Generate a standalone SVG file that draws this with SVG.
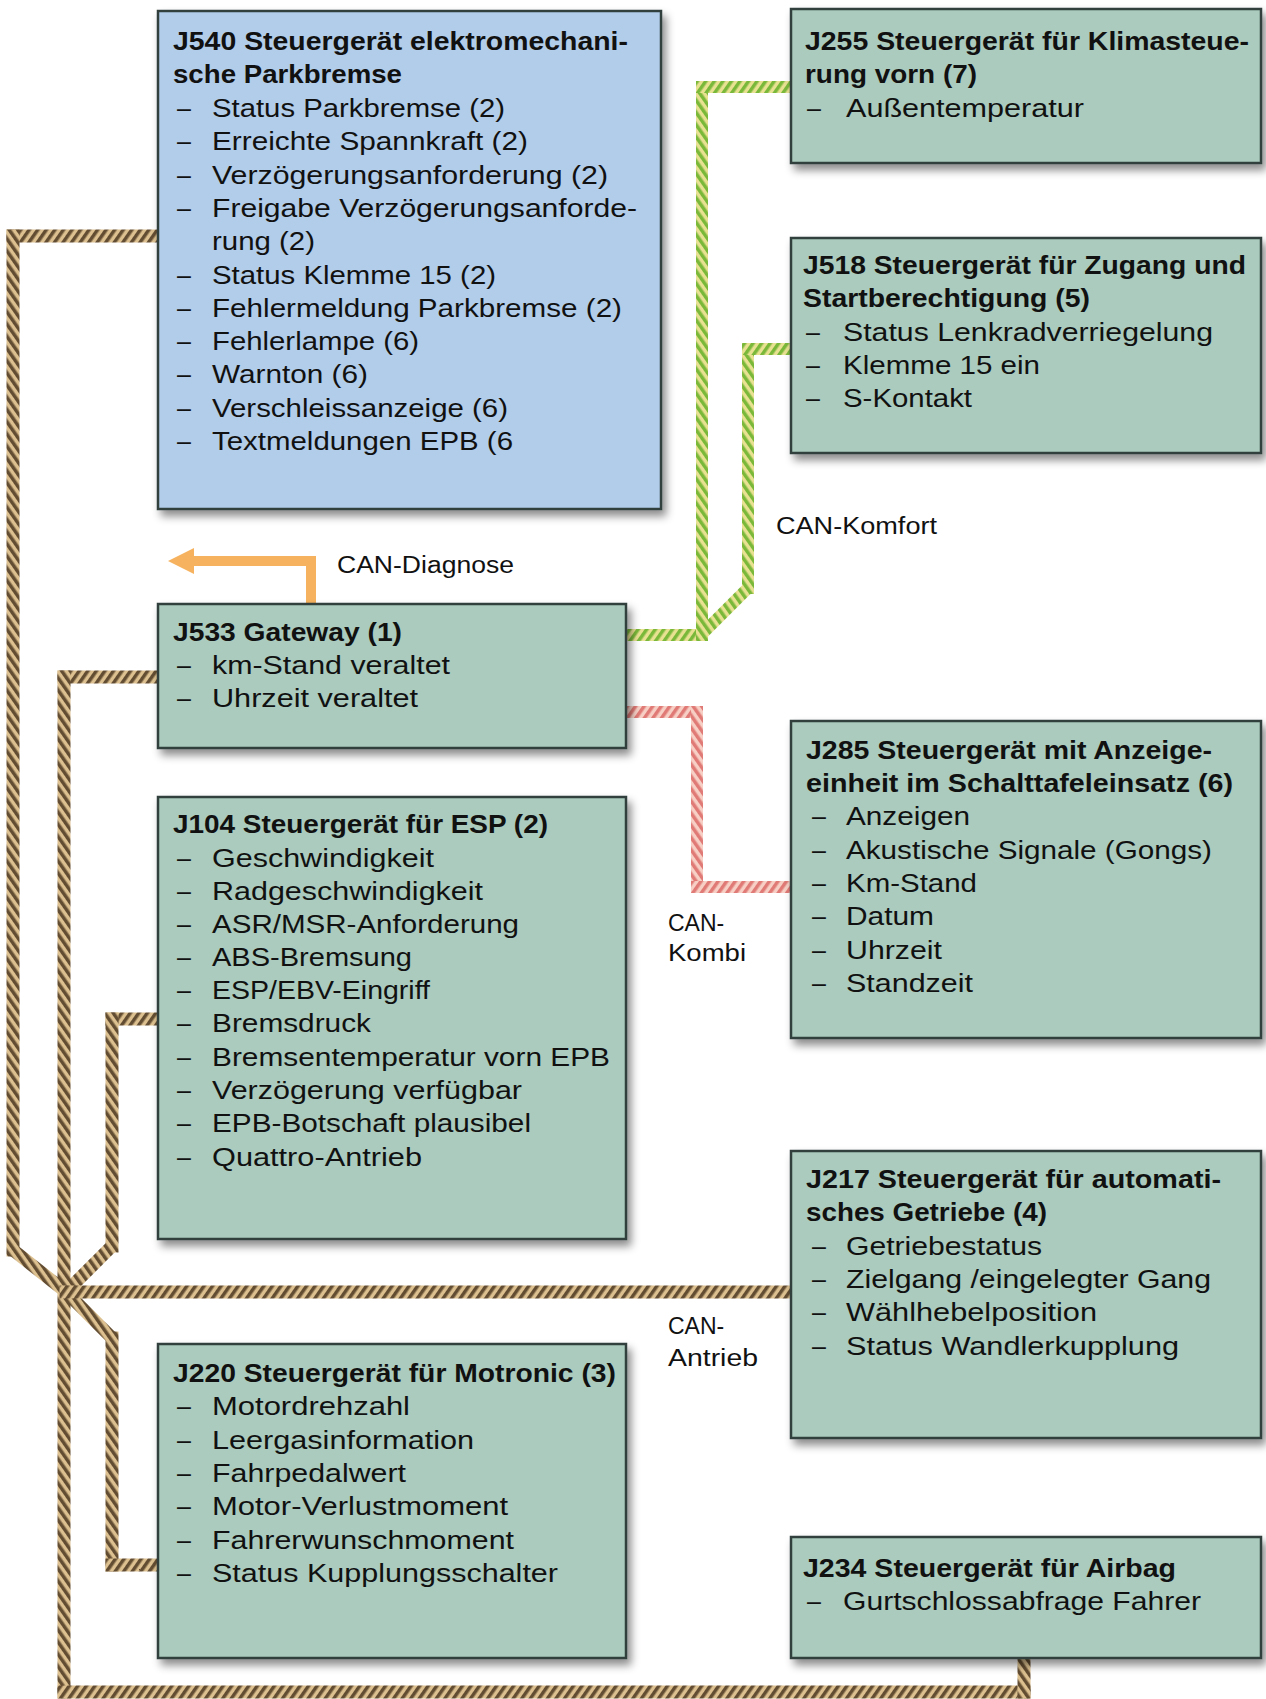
<svg xmlns="http://www.w3.org/2000/svg" width="1266" height="1699" viewBox="0 0 1266 1699">
<defs>
<style>
.box{stroke:#33403c;stroke-width:2.5}
.g{fill:#aacbbe}
.b{fill:#b1cdea}
.t{font-family:"Liberation Sans",Arial,sans-serif;font-weight:bold;font-size:26px;fill:#111}
.i{font-family:"Liberation Sans",Arial,sans-serif;font-size:25px;fill:#111}
.l{font-family:"Liberation Sans",Arial,sans-serif;font-size:23px;fill:#111}
.wb{fill:none;stroke-width:13}
.wg{fill:none;stroke-width:12}
.sq{stroke-linecap:square}
.hb{stroke:url(#brH)}
.vb{stroke:url(#brV)}
.hg{stroke:url(#grH)}
.vg{stroke:url(#grV)}
.hr{stroke:url(#rdH)}
.vr{stroke:url(#rdV)}
</style>
<filter id="sh" x="-5%" y="-5%" width="115%" height="120%">
<feDropShadow dx="4" dy="6" stdDeviation="4" flood-color="#000" flood-opacity="0.45"/>
</filter>
<pattern id="brH" width="7" height="7" patternUnits="userSpaceOnUse" patternTransform="rotate(35)"><rect width="7" height="7" fill="#dcc08f"/><rect width="3.5" height="7" fill="#634d32"/></pattern>
<pattern id="brV" width="7" height="7" patternUnits="userSpaceOnUse" patternTransform="rotate(-35)"><rect width="7" height="7" fill="#dcc08f"/><rect width="3.5" height="7" fill="#634d32"/></pattern>
<pattern id="grH" width="7" height="7" patternUnits="userSpaceOnUse" patternTransform="rotate(35)"><rect width="7" height="7" fill="#e8e192"/><rect width="3.5" height="7" fill="#7ab83a"/></pattern>
<pattern id="grV" width="7" height="7" patternUnits="userSpaceOnUse" patternTransform="rotate(-35)"><rect width="7" height="7" fill="#e8e192"/><rect width="3.5" height="7" fill="#7ab83a"/></pattern>
<pattern id="rdH" width="7" height="7" patternUnits="userSpaceOnUse" patternTransform="rotate(35)"><rect width="7" height="7" fill="#f7cfc4"/><rect width="3.5" height="7" fill="#e07a76"/></pattern>
<pattern id="rdV" width="7" height="7" patternUnits="userSpaceOnUse" patternTransform="rotate(-35)"><rect width="7" height="7" fill="#f7cfc4"/><rect width="3.5" height="7" fill="#e07a76"/></pattern>
</defs>
<rect width="1266" height="1699" fill="#ffffff"/>

<g id="connectors">
<g id="can-antrieb">
<path class="wb vb" d="M13,1250 L66,1292"/>
<path class="wb vb" d="M112,1246 L66,1292"/>
<path class="wb vb" d="M66,1292 L112,1338"/>
<line class="wb hb sq" x1="158" y1="236" x2="13" y2="236"/>
<line class="wb vb sq" x1="13" y1="236" x2="13" y2="1250"/>
<line class="wb hb sq" x1="158" y1="1019" x2="112" y2="1019"/>
<line class="wb vb sq" x1="112" y1="1019" x2="112" y2="1246"/>
<line class="wb hb sq" x1="158" y1="677" x2="64" y2="677"/>
<line class="wb vb sq" x1="64" y1="677" x2="64" y2="1692"/>
<line class="wb hb sq" x1="64" y1="1692" x2="1024" y2="1692"/>
<line class="wb vb sq" x1="1024" y1="1692" x2="1024" y2="1660"/>
<line class="wb hb sq" x1="66" y1="1292" x2="791" y2="1292"/>
<line class="wb vb sq" x1="112" y1="1338" x2="112" y2="1565"/>
<line class="wb hb sq" x1="112" y1="1565" x2="158" y2="1565"/>
</g>
<g id="can-komfort">
<path class="wg vg" d="M748,588 L702,634"/>
<line class="wg hg sq" x1="626" y1="635" x2="702" y2="635"/>
<line class="wg vg sq" x1="702" y1="635" x2="702" y2="87"/>
<line class="wg hg sq" x1="702" y1="87" x2="791" y2="87"/>
<line class="wg vg sq" x1="748" y1="588" x2="748" y2="349"/>
<line class="wg hg sq" x1="748" y1="349" x2="791" y2="349"/>
</g>
<g id="can-kombi">
<line class="wg hr sq" x1="626" y1="712" x2="697" y2="712"/>
<line class="wg vr sq" x1="697" y1="712" x2="697" y2="887"/>
<line class="wg hr sq" x1="697" y1="887" x2="791" y2="887"/>
</g>
<g id="can-diagnose">
<path d="M311,606 V561 H190" fill="none" stroke="#f6b25e" stroke-width="10"/>
<polygon points="168,561 194,548 194,574" fill="#f6b25e"/>
</g>
</g>

<g id="labels">
<text class="l" x="776" y="534" textLength="161" lengthAdjust="spacingAndGlyphs">CAN-Komfort</text>
<text class="l" x="337" y="573" textLength="177" lengthAdjust="spacingAndGlyphs">CAN-Diagnose</text>
<text class="l" x="668" y="931">CAN-</text>
<text class="l" x="668" y="961" textLength="78" lengthAdjust="spacingAndGlyphs">Kombi</text>
<text class="l" x="668" y="1334">CAN-</text>
<text class="l" x="668" y="1366" textLength="90" lengthAdjust="spacingAndGlyphs">Antrieb</text>
</g>

<g id="J540">
<rect class="box b" x="158" y="11" width="503" height="498" filter="url(#sh)"/>
<text class="t" x="173" y="50" textLength="455" lengthAdjust="spacingAndGlyphs">J540 Steuergerät elektromechani-</text>
<text class="t" x="173" y="83" textLength="229" lengthAdjust="spacingAndGlyphs">sche Parkbremse</text>
<g class="i">
<text x="177" y="117">–</text><text x="212" y="117" textLength="293" lengthAdjust="spacingAndGlyphs">Status Parkbremse (2)</text>
<text x="177" y="150">–</text><text x="212" y="150" textLength="316" lengthAdjust="spacingAndGlyphs">Erreichte Spannkraft (2)</text>
<text x="177" y="184">–</text><text x="212" y="184" textLength="396" lengthAdjust="spacingAndGlyphs">Verzögerungsanforderung (2)</text>
<text x="177" y="217">–</text><text x="212" y="217" textLength="425" lengthAdjust="spacingAndGlyphs">Freigabe Verzögerungsanforde-</text>
<text x="212" y="250" textLength="103" lengthAdjust="spacingAndGlyphs">rung (2)</text>
<text x="177" y="284">–</text><text x="212" y="284" textLength="284" lengthAdjust="spacingAndGlyphs">Status Klemme 15 (2)</text>
<text x="177" y="317">–</text><text x="212" y="317" textLength="410" lengthAdjust="spacingAndGlyphs">Fehlermeldung Parkbremse (2)</text>
<text x="177" y="350">–</text><text x="212" y="350" textLength="207" lengthAdjust="spacingAndGlyphs">Fehlerlampe (6)</text>
<text x="177" y="383">–</text><text x="212" y="383" textLength="156" lengthAdjust="spacingAndGlyphs">Warnton (6)</text>
<text x="177" y="417">–</text><text x="212" y="417" textLength="296" lengthAdjust="spacingAndGlyphs">Verschleissanzeige (6)</text>
<text x="177" y="450">–</text><text x="212" y="450" textLength="301" lengthAdjust="spacingAndGlyphs">Textmeldungen EPB (6</text>
</g>
</g>

<g id="J255">
<rect class="box g" x="791" y="9" width="470" height="154" filter="url(#sh)"/>
<text class="t" x="805" y="50" textLength="444" lengthAdjust="spacingAndGlyphs">J255 Steuergerät für Klimasteue-</text>
<text class="t" x="805" y="83" textLength="172" lengthAdjust="spacingAndGlyphs">rung vorn (7)</text>
<g class="i">
<text x="807" y="117">–</text><text x="846" y="117" textLength="238" lengthAdjust="spacingAndGlyphs">Außentemperatur</text>
</g>
</g>

<g id="J518">
<rect class="box g" x="791" y="238" width="470" height="215" filter="url(#sh)"/>
<text class="t" x="803" y="274" textLength="443" lengthAdjust="spacingAndGlyphs">J518 Steuergerät für Zugang und</text>
<text class="t" x="803" y="307" textLength="287" lengthAdjust="spacingAndGlyphs">Startberechtigung (5)</text>
<g class="i">
<text x="806" y="341">–</text><text x="843" y="341" textLength="370" lengthAdjust="spacingAndGlyphs">Status Lenkradverriegelung</text>
<text x="806" y="374">–</text><text x="843" y="374" textLength="197" lengthAdjust="spacingAndGlyphs">Klemme 15 ein</text>
<text x="806" y="407">–</text><text x="843" y="407" textLength="129" lengthAdjust="spacingAndGlyphs">S-Kontakt</text>
</g>
</g>

<g id="J533">
<rect class="box g" x="158" y="604" width="468" height="144" filter="url(#sh)"/>
<text class="t" x="173" y="641" textLength="229" lengthAdjust="spacingAndGlyphs">J533 Gateway (1)</text>
<g class="i">
<text x="177" y="674">–</text><text x="212" y="674" textLength="238" lengthAdjust="spacingAndGlyphs">km-Stand veraltet</text>
<text x="177" y="707">–</text><text x="212" y="707" textLength="206" lengthAdjust="spacingAndGlyphs">Uhrzeit veraltet</text>
</g>
</g>

<g id="J285">
<rect class="box g" x="791" y="721" width="470" height="317" filter="url(#sh)"/>
<text class="t" x="806" y="759" textLength="406" lengthAdjust="spacingAndGlyphs">J285 Steuergerät mit Anzeige-</text>
<text class="t" x="806" y="792" textLength="427" lengthAdjust="spacingAndGlyphs">einheit im Schalttafeleinsatz (6)</text>
<g class="i">
<text x="812" y="825">–</text><text x="846" y="825" textLength="124" lengthAdjust="spacingAndGlyphs">Anzeigen</text>
<text x="812" y="859">–</text><text x="846" y="859" textLength="366" lengthAdjust="spacingAndGlyphs">Akustische Signale (Gongs)</text>
<text x="812" y="892">–</text><text x="846" y="892" textLength="131" lengthAdjust="spacingAndGlyphs">Km-Stand</text>
<text x="812" y="925">–</text><text x="846" y="925" textLength="88" lengthAdjust="spacingAndGlyphs">Datum</text>
<text x="812" y="959">–</text><text x="846" y="959" textLength="96" lengthAdjust="spacingAndGlyphs">Uhrzeit</text>
<text x="812" y="992">–</text><text x="846" y="992" textLength="127" lengthAdjust="spacingAndGlyphs">Standzeit</text>
</g>
</g>

<g id="J104">
<rect class="box g" x="158" y="797" width="468" height="442" filter="url(#sh)"/>
<text class="t" x="173" y="833" textLength="375" lengthAdjust="spacingAndGlyphs">J104 Steuergerät für ESP (2)</text>
<g class="i">
<text x="177" y="867">–</text><text x="212" y="867" textLength="222" lengthAdjust="spacingAndGlyphs">Geschwindigkeit</text>
<text x="177" y="900">–</text><text x="212" y="900" textLength="271" lengthAdjust="spacingAndGlyphs">Radgeschwindigkeit</text>
<text x="177" y="933">–</text><text x="212" y="933" textLength="307" lengthAdjust="spacingAndGlyphs">ASR/MSR-Anforderung</text>
<text x="177" y="966">–</text><text x="212" y="966" textLength="200" lengthAdjust="spacingAndGlyphs">ABS-Bremsung</text>
<text x="177" y="999">–</text><text x="212" y="999" textLength="218" lengthAdjust="spacingAndGlyphs">ESP/EBV-Eingriff</text>
<text x="177" y="1032">–</text><text x="212" y="1032" textLength="159" lengthAdjust="spacingAndGlyphs">Bremsdruck</text>
<text x="177" y="1066">–</text><text x="212" y="1066" textLength="398" lengthAdjust="spacingAndGlyphs">Bremsentemperatur vorn EPB</text>
<text x="177" y="1099">–</text><text x="212" y="1099" textLength="310" lengthAdjust="spacingAndGlyphs">Verzögerung verfügbar</text>
<text x="177" y="1132">–</text><text x="212" y="1132" textLength="319" lengthAdjust="spacingAndGlyphs">EPB-Botschaft plausibel</text>
<text x="177" y="1166">–</text><text x="212" y="1166" textLength="210" lengthAdjust="spacingAndGlyphs">Quattro-Antrieb</text>
</g>
</g>

<g id="J217">
<rect class="box g" x="791" y="1151" width="470" height="287" filter="url(#sh)"/>
<text class="t" x="806" y="1188" textLength="415" lengthAdjust="spacingAndGlyphs">J217 Steuergerät für automati-</text>
<text class="t" x="806" y="1221" textLength="241" lengthAdjust="spacingAndGlyphs">sches Getriebe (4)</text>
<g class="i">
<text x="812" y="1255">–</text><text x="846" y="1255" textLength="196" lengthAdjust="spacingAndGlyphs">Getriebestatus</text>
<text x="812" y="1288">–</text><text x="846" y="1288" textLength="365" lengthAdjust="spacingAndGlyphs">Zielgang /eingelegter Gang</text>
<text x="812" y="1321">–</text><text x="846" y="1321" textLength="251" lengthAdjust="spacingAndGlyphs">Wählhebelposition</text>
<text x="812" y="1355">–</text><text x="846" y="1355" textLength="333" lengthAdjust="spacingAndGlyphs">Status Wandlerkupplung</text>
</g>
</g>

<g id="J220">
<rect class="box g" x="158" y="1344" width="468" height="314" filter="url(#sh)"/>
<text class="t" x="173" y="1382" textLength="443" lengthAdjust="spacingAndGlyphs">J220 Steuergerät für Motronic (3)</text>
<g class="i">
<text x="177" y="1415">–</text><text x="212" y="1415" textLength="198" lengthAdjust="spacingAndGlyphs">Motordrehzahl</text>
<text x="177" y="1449">–</text><text x="212" y="1449" textLength="262" lengthAdjust="spacingAndGlyphs">Leergasinformation</text>
<text x="177" y="1482">–</text><text x="212" y="1482" textLength="194" lengthAdjust="spacingAndGlyphs">Fahrpedalwert</text>
<text x="177" y="1515">–</text><text x="212" y="1515" textLength="296" lengthAdjust="spacingAndGlyphs">Motor-Verlustmoment</text>
<text x="177" y="1549">–</text><text x="212" y="1549" textLength="302" lengthAdjust="spacingAndGlyphs">Fahrerwunschmoment</text>
<text x="177" y="1582">–</text><text x="212" y="1582" textLength="346" lengthAdjust="spacingAndGlyphs">Status Kupplungsschalter</text>
</g>
</g>

<g id="J234">
<rect class="box g" x="791" y="1537" width="470" height="121" filter="url(#sh)"/>
<text class="t" x="803" y="1577" textLength="373" lengthAdjust="spacingAndGlyphs">J234 Steuergerät für Airbag</text>
<g class="i">
<text x="807" y="1610">–</text><text x="843" y="1610" textLength="358" lengthAdjust="spacingAndGlyphs">Gurtschlossabfrage Fahrer</text>
</g>
</g>
</svg>
